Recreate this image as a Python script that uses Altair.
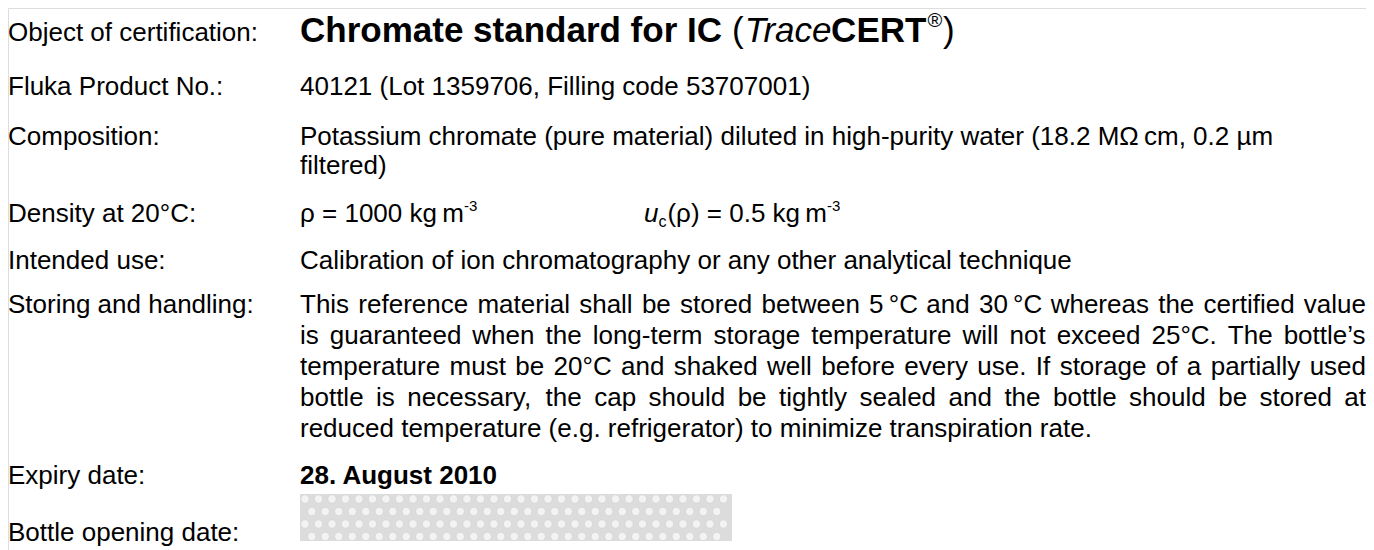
import altair as alt
import pandas as pd
import numpy as np

# ---------------- content ----------------
labels = ["Object of certification:", "Fluka Product No.:", "Composition:", "Density at 20°C:",
          "Intended use:", "Storing and handling:", "Expiry date:", "Bottle opening date:"]
title_runs = ["Chromate standard for IC", "(", "Trace", "CERT", "®", ")"]
product_line = "40121 (Lot 1359706, Filling code 53707001)"
composition_lines = ["Potassium chromate (pure material) diluted in high-purity water (18.2 M\u03a9\u2009cm, 0.2 \u00b5m",
                     "filtered)"]
density_a = "\u03c1 = 1000 kg\u2009m"
density_b = "(\u03c1) = 0.5 kg\u2009m"
exponent = "-3"
intended_line = "Calibration of ion chromatography or any other analytical technique"
storing_lines = [
    "This reference material shall be stored between 5\u2009°C and 30\u2009°C whereas the certified value",
    "is guaranteed when the long-term storage temperature will not exceed 25°C. The bottle\u2019s",
    "temperature must be 20°C and shaked well before every use. If storage of a partially used",
    "bottle is necessary, the cap should be tightly sealed and the bottle should be stored at",
    "reduced temperature (e.g. refrigerator) to minimize transpiration rate.",
]
expiry = "28. August 2010"

# ---------------- layout ----------------
FONT = "Liberation Sans"
FS = 26
X_LABEL = 8
X_VAL = 300
X_RIGHT = 1366
row_base = [41, 95, 145, 222, 269, 313, 484, 541]
LINE = 31

# Arial / Liberation Sans advance widths (1/1000 em), regular
W = dict(zip("abcdefghijklmnopqrstuvwxyz",
             [556,556,500,556,556,278,556,556,222,222,500,222,833,556,556,556,556,333,500,278,556,500,722,500,500,500]))
W.update(dict(zip("ABCDEFGHIJKLMNOPQRSTUVWXYZ",
                  [667,667,722,722,667,611,778,722,278,500,667,556,833,722,778,667,778,722,667,611,722,667,944,667,667,611])))
W.update({d: 556 for d in "0123456789"})
W.update({" ": 278, ".": 278, ",": 278, ":": 278, "(": 333, ")": 333, "-": 333, "\u2019": 222,
          "°": 400, "\u2009": 167, "\u03c1": 570, "=": 584, "\u00b5": 556, "\u03a9": 768, "®": 737})
WB = dict(W)
WB.update(dict(zip("abcdefghijklmnopqrstuvwxyz",
                   [556,611,556,611,556,333,611,611,278,278,556,278,889,611,611,611,611,389,556,333,611,556,778,556,556,500])))
WB.update({"C": 722, "E": 667, "R": 722, "T": 611, "I": 278, "A": 722})


def width(s, size, table=W):
    return sum(table.get(c, 556) for c in s) * size / 1000.0


rows = []


def add(text, x, y, size=FS, layer="reg"):
    rows.append(dict(text=text, x=x, y=y, size=size, layer=layer))


# labels
for lab, yb in zip(labels, row_base):
    add(lab, X_LABEL, yb)

# title runs
TS = 35
tx = X_VAL
styles = ["bold", "reg", "ital", "bold", "sup", "reg"]
pre_gap = [0, 10, 1, -3, 1, 1]
for run, st, pg in zip(title_runs, styles, pre_gap):
    tx += pg
    if st == "sup":
        add(run, tx, row_base[0] - 14, 20, "reg")
        tx += width(run, 20)
    else:
        add(run, tx, row_base[0] + 1, TS, st)
        tx += width(run, TS, WB if st == "bold" else W)

add(product_line, X_VAL, row_base[1])
for i, ln in enumerate(composition_lines):
    add(ln, X_VAL, row_base[2] + i * 29)

# density
add(density_a, X_VAL, row_base[3])
add(exponent, X_VAL + width(density_a, FS) + 1, row_base[3] - 11, 15)
UX = 644
add("u", UX, row_base[3], FS, "ital")
add("c", UX + width("u", FS), row_base[3] + 5, 16)
add(density_b, UX + width("u", FS) + width("c", 16) + 1, row_base[3])
add(exponent, UX + width("u", FS) + width("c", 16) + 1 + width(density_b, FS) + 1, row_base[3] - 11, 15)

add(intended_line, X_VAL, row_base[4])

# justified paragraph
for i, ln in enumerate(storing_lines):
    yb = row_base[5] + i * LINE
    words = ln.split(" ")
    if i == len(storing_lines) - 1:
        add(ln, X_VAL, yb)
        continue
    ws = [width(w, FS) for w in words]
    gap = (X_RIGHT - X_VAL - sum(ws)) / (len(words) - 1)
    xx = X_VAL
    for w, wd in zip(words, ws):
        add(w, xx, yb)
        xx += wd + gap

add(expiry, X_VAL, row_base[6], FS, "bold")

df = pd.DataFrame(rows)

xs = alt.Scale(domain=[8, 1366])
ys = alt.Scale(domain=[8, 550], reverse=True)


def layer(kind, weight, style):
    return alt.Chart(df).transform_filter(alt.datum.layer == kind).mark_text(
        font=FONT, fontWeight=weight, fontStyle=style, align="left", baseline="alphabetic", color="black"
    ).encode(
        x=alt.X("x:Q", scale=xs, axis=None),
        y=alt.Y("y:Q", scale=ys, axis=None),
        size=alt.Size("size:Q", scale=None, legend=None),
        text="text:N",
    )


# opening-date placeholder box with dotted texture
box = pd.DataFrame([dict(x=300, x2=732, y=494, y2=541)])
box_chart = alt.Chart(box).mark_rect(color="#dcdcdc").encode(
    x=alt.X("x:Q", scale=xs, axis=None), x2="x2:Q",
    y=alt.Y("y:Q", scale=ys, axis=None), y2="y2:Q")
gx, gy = np.meshgrid(np.arange(305, 730, 13.5), np.arange(499, 540, 12.5))
gx = gx + (np.arange(gx.shape[0])[:, None] % 2) * 6.75
dots = pd.DataFrame(dict(x=gx.ravel(), y=gy.ravel()))
dots = dots[dots.x < 728]
dots_chart = alt.Chart(dots).mark_circle(color="#f3f3f3", size=70, opacity=1,
                                         stroke="#cfcfcf", strokeWidth=0.6).encode(
    x=alt.X("x:Q", scale=xs, axis=None), y=alt.Y("y:Q", scale=ys, axis=None))

chart = alt.layer(
    box_chart, dots_chart,
    layer("reg", "normal", "normal"),
    layer("bold", "bold", "normal"),
    layer("ital", "normal", "italic"),
).properties(width=1358, height=542, autosize=alt.AutoSizeParams(type="none"), padding=0
).configure_view(stroke=None).configure(background="white")

chart.save("out.html", embed_options={"renderer": "svg", "actions": False})
